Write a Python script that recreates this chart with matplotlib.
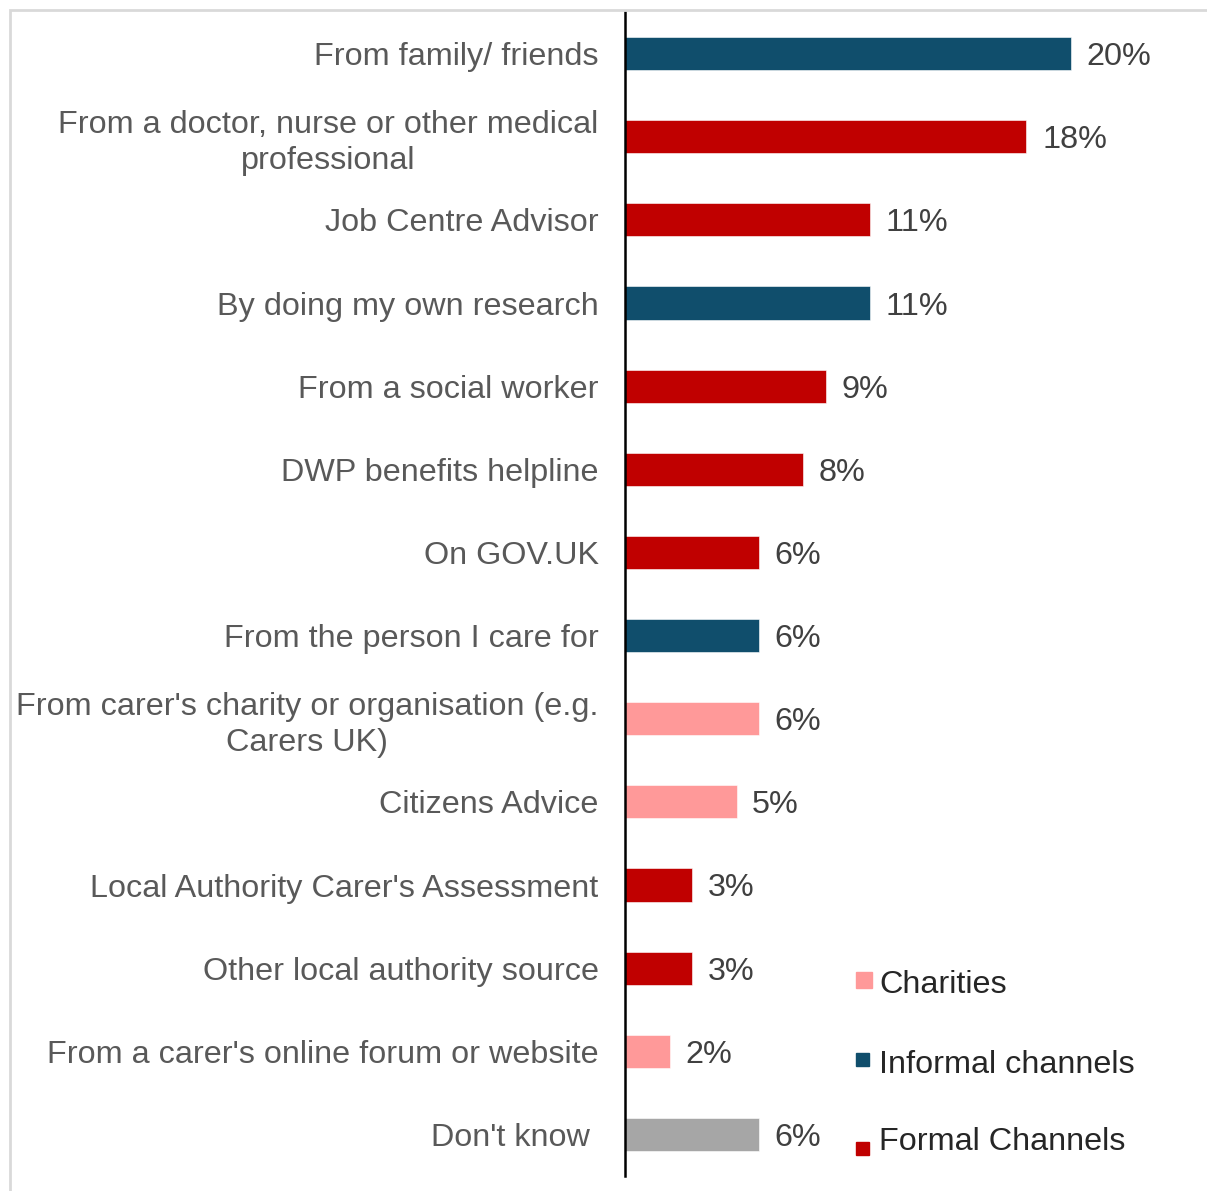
import matplotlib.pyplot as plt
from matplotlib.patches import Rectangle

plt.rcParams['font.family'] = ['Liberation Sans', 'DejaVu Sans']

categories = [
    'From family/ friends',
    'From a doctor, nurse or other medical\nprofessional',
    'Job Centre Advisor',
    'By doing my own research',
    'From a social worker',
    'DWP benefits helpline',
    'On GOV.UK',
    'From the person I care for',
    "From carer's charity or organisation (e.g.\nCarers UK)",
    'Citizens Advice',
    "Local Authority Carer's Assessment",
    'Other local authority source',
    "From a carer's online forum or website",
    "Don't know ",
]
values = [20, 18, 11, 11, 9, 8, 6, 6, 6, 5, 3, 3, 2, 6]
groups = ['informal', 'formal', 'formal', 'informal', 'formal', 'formal', 'formal',
          'informal', 'charity', 'charity', 'formal', 'formal', 'charity', 'unknown']

colors = {'informal': '#104E6C', 'formal': '#C00000', 'charity': '#FF9999', 'unknown': '#A6A6A6'}
legend_labels = ['Charities', 'Informal channels', 'Formal Channels']
legend_keys = ['charity', 'informal', 'formal']

W, H = 1207, 1191
fig = plt.figure(figsize=(W / 100, H / 100), dpi=100)

# light frame around the chart area
fig.patches.append(Rectangle((10 / W, -0.01), 1.0, 1 - 10 / H + 0.01, transform=fig.transFigure,
                             fill=False, edgecolor='#D9D9D9', linewidth=2))

ax = fig.add_axes([625 / W, 1 - 1176 / H, (1200 - 625) / W, (1176 - 12) / H])
y = list(range(len(categories)))
ax.barh(y, values, height=0.4, color=[colors[g] for g in groups],
        edgecolor='white', linewidth=0.4)
ax.set_ylim(len(categories) - 0.5, -0.5)
ax.set_xlim(0, 575 / 22.3)

for yi, v in zip(y, values):
    ax.text(v + 0.7, yi, f'{v}%', va='center_baseline', ha='left', fontsize=23.3, color='#404040')

ax.set_yticks(y)
ax.set_yticklabels(categories, fontsize=23.3, color='#595959')
for lab in ax.get_yticklabels():
    lab.set_multialignment('center')
    lab.set_linespacing(1.25)
ax.tick_params(axis='y', length=0, pad=19)
ax.set_xticks([])
for side in ['top', 'right', 'bottom']:
    ax.spines[side].set_visible(False)
ax.spines['left'].set_linewidth(1.8)
ax.spines['left'].set_color('black')

# legend drawn as small squares next to text
marker_boxes = [(856, 972, 16), (856, 1053, 13), (856, 1142, 13)]
text_y = [985, 1065, 1142]
for key, lab, (mx, my, ms), ty in zip(legend_keys, legend_labels, marker_boxes, text_y):
    fig.patches.append(Rectangle((mx / W, 1 - (my + ms) / H), ms / W, ms / H,
                                 transform=fig.transFigure, color=colors[key]))
    fig.text(879 / W, 1 - ty / H, lab, fontsize=23.3, color='#262626', va='center', ha='left')

fig.savefig('out.png', dpi=100)
